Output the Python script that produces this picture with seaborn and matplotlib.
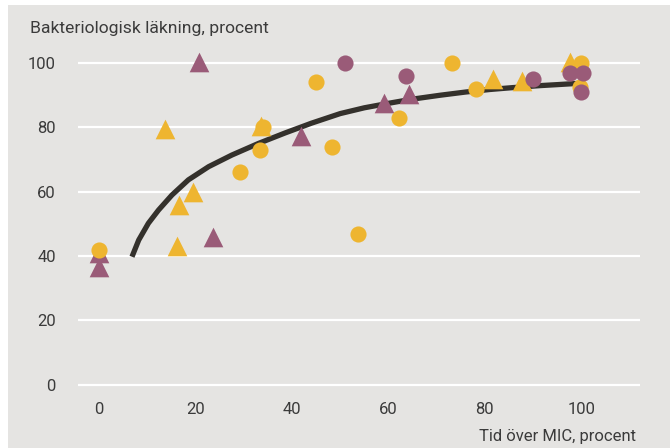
import pandas as pd
import numpy as np
import matplotlib.pyplot as plt
import matplotlib.patches as mpatches
import seaborn as sns

# Values
gul_cirkel_x = [0, 29.3, 33.4, 34, 45, 48.3, 53.7, 62.2, 73.2, 78.2, 99.8, 100]
gul_cirkel_y = [42, 66, 73, 80, 94, 74, 46.8, 83, 100, 91.8, 92.6, 100]

gul_triangel_x = [13.7, 16.1, 16.5, 19.4, 33.6, 81.8, 87.7, 97.7]
gul_triangel_y = [79.4, 43.2, 56, 60, 80.4, 95, 94.5, 100.4]

lila_cirkel_x = [51, 63.7, 90, 97.7, 100.3, 100]
lila_cirkel_y = [100, 96, 95, 97, 97, 90.9]

lila_triangel_x = [0, 0, 20.7, 23.7, 41.8, 59, 64.3]
lila_triangel_y = [41, 36.7, 100.4, 46, 77.3, 87.6, 90.4]

# fitted curve, points
kurva_x = [6.8, 8.2, 10.2, 12.3, 15.1, 18.5, 22.7, 27.5, 33, 38.6, 44, 50, 55, 60.4,
           65, 70.7, 76, 81.1, 86, 91.5, 95, 98.3, 100]
kurva_y = [39.8, 45, 50.2, 54.3, 59, 63.7, 67.8, 71.4, 75, 78.3, 81.3, 84.3, 86.1, 87.6,
           88.8, 90, 91, 91.8, 92.4, 93, 93.3, 93.6, 93.7]

x_ticks = [0, 20, 40, 60, 80, 100]
y_ticks = [0, 20, 40, 60, 80, 100]

GUL = '#eeb530'
LILA = '#9a5b78'
BG = '#e5e4e2'
TEXT = '#3b3b3b'

sns.set_style('white')
plt.rcParams['font.family'] = ['Roboto', 'DejaVu Sans']

fig = plt.figure(figsize=(6.7, 4.48), dpi=100, facecolor=BG)
ax = fig.add_axes([78 / 670, 60 / 448, 562 / 670, 341 / 448])
ax.set_facecolor(BG)

# white strips at top and left edge of the picture
fig.patches.append(mpatches.Rectangle((0, 1 - 5 / 448), 1, 5 / 448, transform=fig.transFigure,
                                      facecolor='white', edgecolor='none', zorder=-1))
fig.patches.append(mpatches.Rectangle((0, 0), 8 / 670, 1, transform=fig.transFigure,
                                      facecolor='white', edgecolor='none', zorder=-1))

kurva = pd.DataFrame({'x': kurva_x, 'y': kurva_y})
sns.lineplot(data=kurva, x='x', y='y', ax=ax, color='#34312c', linewidth=3.8,
             solid_capstyle='butt', solid_joinstyle='round', zorder=2)

groups = [
    (lila_triangel_x, lila_triangel_y, LILA, '^', 200),
    (gul_triangel_x, gul_triangel_y, GUL, '^', 200),
    (gul_cirkel_x, gul_cirkel_y, GUL, 'o', 135),
    (lila_cirkel_x, lila_cirkel_y, LILA, 'o', 135),
]
for xs, ys, col, mk, s in groups:
    df = pd.DataFrame({'x': xs, 'y': ys})
    sns.scatterplot(data=df, x='x', y='y', ax=ax, color=col, marker=mk, s=s,
                    linewidth=0, zorder=3)

ax.set_xlim(-4.4, 112.2)
ax.set_ylim(-1, 105)
ax.set_xticks(x_ticks)
ax.set_yticks(y_ticks)
ax.set_xlabel('')
ax.set_ylabel('')

ax.grid(axis='y', color='white', linewidth=1.6)
ax.grid(axis='x', visible=False)
ax.set_axisbelow(True)
for sp in ax.spines.values():
    sp.set_visible(False)

ax.tick_params(axis='x', length=5, width=0.9, color='#6a6a6a', direction='out', pad=5,
               labelsize=12, labelcolor=TEXT)
ax.tick_params(axis='y', length=0, pad=16, labelsize=12, labelcolor=TEXT)

fig.text(30 / 670, 1 - 28 / 448, 'Bakteriologisk läkning, procent', fontsize=12.6,
         color=TEXT, ha='left', va='center')
fig.text(636 / 670, 1 - 436 / 448, 'Tid över MIC, procent', fontsize=12,
         color=TEXT, ha='right', va='center')

fig.savefig('out.png', dpi=100, facecolor=BG)
